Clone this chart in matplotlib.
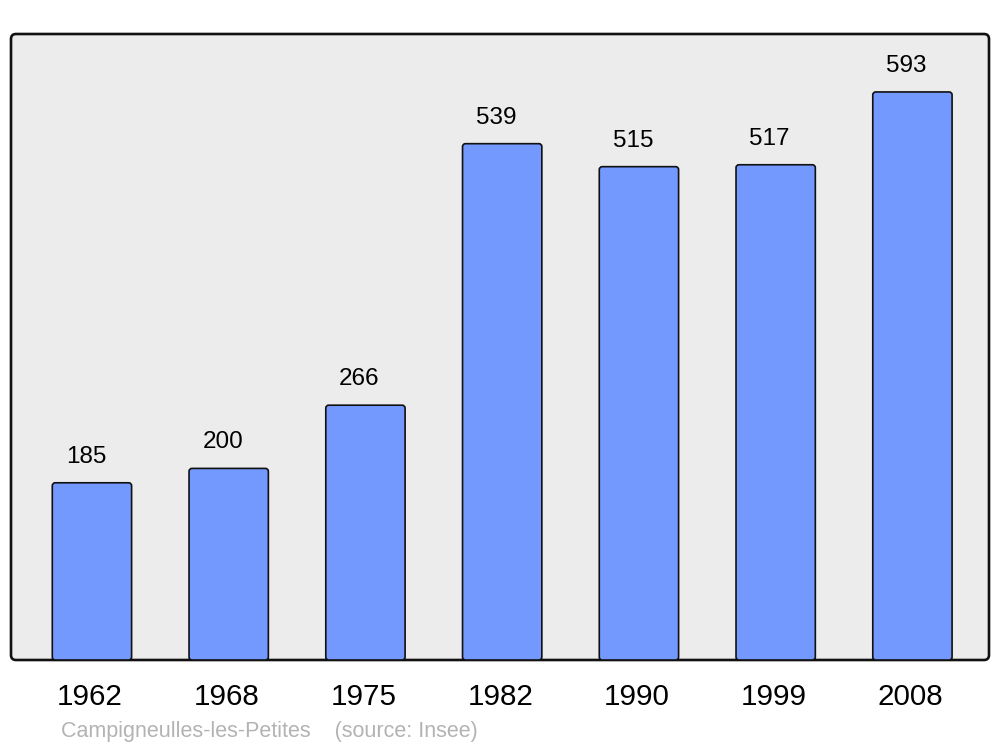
import matplotlib
matplotlib.use("Agg")
import matplotlib.pyplot as plt
from matplotlib.patches import FancyBboxPatch
from matplotlib.transforms import ScaledTranslation

years = ["1962", "1968", "1975", "1982", "1990", "1999", "2008"]
population = [185, 200, 266, 539, 515, 517, 593]
footer = "Campigneulles-les-Petites    (source: Insee)"

plt.rcParams['font.family'] = ['Liberation Sans', 'DejaVu Sans']

W, H = 1000, 747
fig = plt.figure(figsize=(W / 100, H / 100), dpi=100)
ax_l, ax_r, ax_t, ax_b = 11, 989, 34, 660
ax = fig.add_axes([ax_l / W, (H - ax_b) / H, (ax_r - ax_l) / W, (ax_b - ax_t) / H])
ax.set_facecolor('none')
for s in ax.spines.values():
    s.set_visible(False)

x = list(range(len(years)))
ax.set_xlim(-0.592, 6.56)
ax.set_ylim(0, 653.5)

# background box with rounded corners
aw, ah = ax_r - ax_l, ax_b - ax_t
bg = FancyBboxPatch((0, 0), 1, 1, boxstyle=f"round,pad=0,rounding_size={5 / aw}",
                    mutation_aspect=aw / ah, transform=ax.transAxes,
                    facecolor='#ececec', edgecolor='#111111', linewidth=1.9,
                    clip_on=False, zorder=0)
ax.add_patch(bg)

bars = ax.bar(x, population, width=0.58, color='#7399ff', edgecolor='#111111',
              linewidth=1.2, zorder=2)
# replace by rounded-corner versions
xpx = 1 / 136.8
ypx = 653.5 / ah
for b in bars:
    b.set_visible(False)
    rp = FancyBboxPatch((b.get_x(), b.get_y()), b.get_width(), b.get_height(),
                        boxstyle=f"round,pad=0,rounding_size={3 * xpx}",
                        mutation_aspect=ypx / xpx,
                        facecolor='#7399ff', edgecolor='#111111', linewidth=1.2,
                        zorder=2)
    ax.add_patch(rp)

for xi, v in zip(x, population):
    ax.annotate(str(v), (xi, v), xytext=(-4.3, 14.4), textcoords='offset points',
                ha='center', va='baseline', fontsize=17.5, color='black')

ax.set_xticks(x)
ax.set_xticklabels(years, fontsize=21.3)
ax.tick_params(axis='x', length=0, pad=16.3)
ax.set_yticks([])
shift = ScaledTranslation(-2 / 100, 0, fig.dpi_scale_trans)
for lab in ax.get_xticklabels():
    lab.set_transform(lab.get_transform() + shift)

fig.text(61 / W, (H - 737) / H, footer, fontsize=15.5, color='#b3b3b3',
         ha='left', va='baseline')

fig.savefig('out.png', dpi=100, facecolor='white')
